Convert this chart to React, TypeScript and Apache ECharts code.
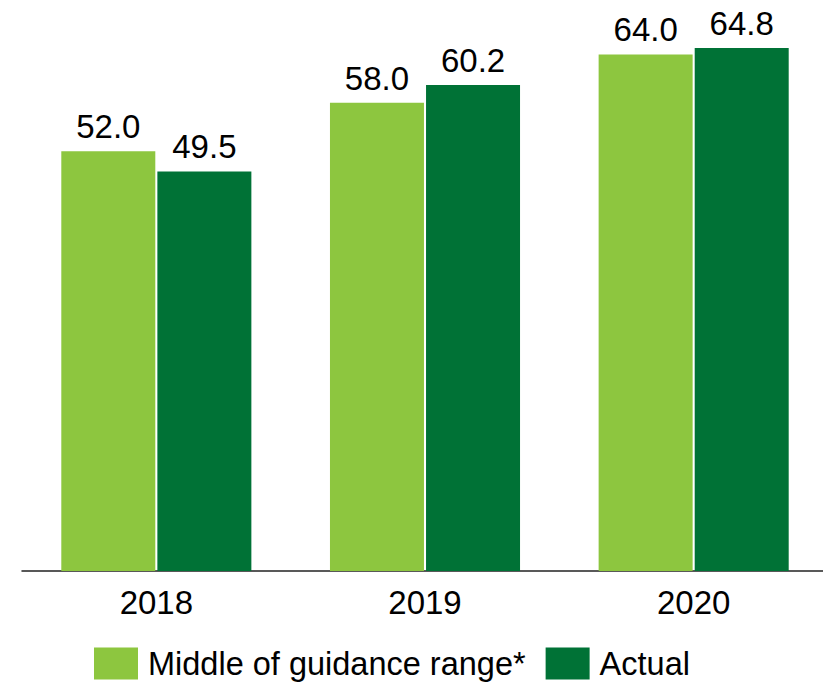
import React, { useEffect, useRef } from "react";
import * as echarts from "echarts";

const categories = ["2018", "2019", "2020"];
const guidanceMid = [52.0, 58.0, 64.0];
const actual = [49.5, 60.2, 64.8];
const seriesNames = ["Middle of guidance range*", "Actual"];

const LIGHT = "#8DC63F";
const DARK = "#007236";
const FONT = "'Liberation Sans', Arial, sans-serif";

export default function App() {
  const ref = useRef<HTMLDivElement>(null);
  useEffect(() => {
    if (!ref.current) return;
    const chart = echarts.init(ref.current, undefined, { renderer: "svg", width: 823, height: 683 });
    const label = {
      show: true,
      position: "top",
      distance: 8,
      color: "#000",
      fontSize: 33,
      fontFamily: FONT,
      formatter: (p: any) => Number(p.value).toFixed(1),
    };
    chart.setOption({
      animation: false,
      backgroundColor: "#fff",
      grid: {
        left: 22,
        width: 806,
        top: 6,
        height: 565,
        containLabel: false,
        outerBoundsMode: "none",
      },
      legend: {
        left: 94,
        top: 647,
        padding: 0,
        icon: "rect",
        itemWidth: 44,
        itemHeight: 32,
        itemGap: 20,
        textStyle: { color: "#000", fontSize: 32.5, fontFamily: FONT, padding: [5, 0, 0, 5] },
        data: seriesNames,
      },
      xAxis: {
        type: "category",
        data: categories,
        axisLine: { show: true, lineStyle: { color: "#222", width: 1.5 } },
        axisTick: { show: false },
        axisLabel: { color: "#000", fontSize: 33, fontFamily: FONT, margin: 15 },
      },
      yAxis: {
        type: "value",
        min: 0,
        max: 70,
        show: false,
        splitLine: { show: false },
      },
      series: [
        {
          name: seriesNames[0],
          type: "bar",
          data: guidanceMid,
          barWidth: 94,
          barGap: "2.2%",
          itemStyle: { color: LIGHT },
          label,
        },
        {
          name: seriesNames[1],
          type: "bar",
          data: actual,
          barWidth: 94,
          itemStyle: { color: DARK },
          label,
        },
      ],
    });
    return () => chart.dispose();
  }, []);
  return (
    <div
      ref={ref}
      style={{ position: "fixed", left: 0, top: 0, width: 823, height: 683, overflow: "hidden" }}
    />
  );
}
